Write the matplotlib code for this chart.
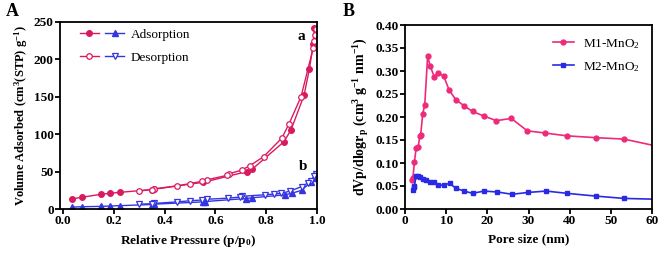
import matplotlib
matplotlib.use("Agg")
import matplotlib.pyplot as plt
from matplotlib.legend_handler import HandlerTuple

plt.rcParams['font.family'] = ['Liberation Serif', 'DejaVu Serif']
plt.rcParams['mathtext.fontset'] = 'custom'
plt.rcParams['mathtext.rm'] = 'Liberation Serif'
plt.rcParams['mathtext.bf'] = 'Liberation Serif:bold'
plt.rcParams['mathtext.it'] = 'Liberation Serif:italic'

# ---- Panel A data ----
m1_ads_p = [0.034, 0.073, 0.148, 0.185, 0.225, 0.349, 0.36, 0.553, 0.723, 0.744, 0.87, 0.898, 0.949, 0.97, 0.985, 0.99]
m1_ads_v = [13.5, 15.6, 19.6, 21.0, 22.3, 26.0, 26.5, 35.7, 50.0, 53.0, 90.0, 106.0, 152.0, 187.0, 220.0, 242.0]
m1_des_p = [0.995, 0.993, 0.99, 0.985, 0.937, 0.89, 0.862, 0.79, 0.736, 0.703, 0.654, 0.646, 0.566, 0.546, 0.50, 0.45, 0.36, 0.35, 0.30]
m1_des_v = [240.0, 232.0, 225.0, 215.0, 150.0, 114.0, 95.0, 70.0, 58.0, 52.0, 47.0, 45.0, 39.0, 37.0, 34.0, 31.0, 27.0, 26.0, 24.0]
m2_ads_p = [0.034, 0.073, 0.148, 0.185, 0.225, 0.35, 0.36, 0.55, 0.56, 0.72, 0.745, 0.874, 0.90, 0.94, 0.975, 0.99, 0.996]
m2_ads_v = [2.5, 3.0, 3.5, 4.0, 4.5, 6.0, 6.5, 9.5, 10.0, 14.0, 15.0, 19.0, 21.0, 25.0, 36.0, 42.0, 46.0]
m2_des_p = [0.998, 0.99, 0.975, 0.965, 0.94, 0.894, 0.86, 0.83, 0.795, 0.703, 0.697, 0.65, 0.566, 0.546, 0.50, 0.45, 0.36, 0.35, 0.30]
m2_des_v = [47.0, 44.0, 38.0, 35.0, 30.0, 24.0, 21.0, 20.0, 19.0, 17.0, 16.0, 14.5, 13.0, 12.0, 11.0, 9.5, 7.5, 7.0, 6.5]

# ---- Panel B data ----
m1_pore = [1.6, 1.9, 2.3, 2.7, 3.2, 3.6, 3.8, 4.3, 4.8, 5.5, 6.1, 7.1, 8.1, 9.4, 10.7, 12.3, 14.4, 16.4, 19.2, 22.2, 25.8, 29.7, 34.1, 39.4, 46.5, 53.2, 62.0]
m1_dv = [0.062, 0.067, 0.102, 0.133, 0.134, 0.159, 0.160, 0.207, 0.226, 0.333, 0.311, 0.288, 0.296, 0.289, 0.259, 0.238, 0.224, 0.212, 0.202, 0.192, 0.197, 0.170, 0.165, 0.159, 0.155, 0.152, 0.135]
m2_pore = [1.85, 2.1, 2.3, 2.66, 3.06, 3.6, 4.3, 5.1, 6.1, 7.1, 8.1, 9.4, 10.9, 12.3, 14.4, 16.4, 19.2, 22.4, 26.0, 29.9, 34.3, 39.4, 46.4, 53.2, 62.0]
m2_dv = [0.042, 0.048, 0.050, 0.072, 0.072, 0.069, 0.065, 0.063, 0.059, 0.058, 0.052, 0.052, 0.056, 0.045, 0.039, 0.034, 0.039, 0.037, 0.032, 0.036, 0.039, 0.034, 0.028, 0.023, 0.021]

RED = '#d81b60'
BLUE = '#3535e0'
PINK = '#ee2a7b'
BLUE2 = '#2a2ae6'

W, H = 660, 256
fig = plt.figure(figsize=(W / 100, H / 100), dpi=100)

def ax_rect(l, t, r, b):
    return [l / W, 1 - b / H, (r - l) / W, (b - t) / H]

def style(ax):
    for s in ax.spines.values():
        s.set_linewidth(1.3)
    ax.tick_params(direction='out', length=3.5, width=1.3, labelsize=9.5, pad=1)
    for lab in ax.get_xticklabels() + ax.get_yticklabels():
        lab.set_fontweight('bold')

# Panel A
axA = fig.add_axes(ax_rect(60, 22, 317, 209))
ms = 4
lw = 1.0
l1, = axA.plot(m1_ads_p, m1_ads_v, '-o', color=RED, ms=ms, lw=lw, mfc=RED, mec=RED)
l2, = axA.plot(m1_des_p, m1_des_v, '-o', color=RED, ms=ms, lw=lw, mfc='white', mec=RED, mew=0.9)
l3, = axA.plot(m2_ads_p, m2_ads_v, '-^', color=BLUE, ms=ms, lw=lw, mfc=BLUE, mec=BLUE)
l4, = axA.plot(m2_des_p, m2_des_v, '-v', color=BLUE, ms=ms, lw=lw, mfc='white', mec=BLUE, mew=0.9)
axA.set_xlim(-0.012, 1.0)
axA.set_ylim(0, 250)
axA.set_xticks([0.0, 0.2, 0.4, 0.6, 0.8, 1.0])
axA.set_yticks([0, 50, 100, 150, 200, 250])
axA.set_xticklabels(['0.0', '0.2', '0.4', '0.6', '0.8', '1.0'])
style(axA)
axA.set_xlabel(r'Relative Pressure (p/p$_\mathbf{0}$)', fontsize=9.5, fontweight='bold', labelpad=4)
axA.set_ylabel(r'Volume Adsorbed (cm$^\mathbf{3}$(STP) g$^\mathbf{-1}$)', fontsize=9, fontweight='bold', labelpad=3)
axA.legend([(l1, l3), (l2, l4)], ['Adsorption', 'Desorption'],
           handler_map={tuple: HandlerTuple(ndivide=None, pad=0.5)},
           handlelength=3.4, loc='upper left', frameon=False, fontsize=9.5,
           bbox_to_anchor=(0.03, 1.03), labelspacing=0.85, handletextpad=0.5)
axA.text(0.94, 230, 'a', fontsize=11, fontweight='bold', ha='center', va='center')
axA.text(0.945, 57, 'b', fontsize=11, fontweight='bold', ha='center', va='center')
fig.text(6 / W, 1 - 12 / H, 'A', fontsize=13, fontweight='bold', ha='left', va='center')

# Panel B
axB = fig.add_axes(ax_rect(405, 25, 652, 209))
p1, = axB.plot(m1_pore, m1_dv, '-o', color=PINK, ms=3.5, lw=1.2, label='M1-MnO$_2$')
p2, = axB.plot(m2_pore, m2_dv, '-s', color=BLUE2, ms=3.5, lw=1.2, label='M2-MnO$_2$')
axB.set_xlim(0, 60)
axB.set_ylim(0, 0.40)
axB.set_xticks([0, 10, 20, 30, 40, 50, 60])
axB.set_yticks([0.0, 0.05, 0.10, 0.15, 0.20, 0.25, 0.30, 0.35, 0.40])
axB.set_yticklabels(['0.00', '0.05', '0.10', '0.15', '0.20', '0.25', '0.30', '0.35', '0.40'])
style(axB)
axB.set_xlabel('Pore size (nm)', fontsize=9.5, fontweight='bold', labelpad=4)
axB.set_ylabel(r'dVp/dlogr$_\mathbf{p}$ (cm$^\mathbf{3}$ g$^\mathbf{-1}$ nm$^\mathbf{-1}$)', fontsize=10, fontweight='bold', labelpad=3)
axB.legend(loc='upper right', frameon=False, fontsize=9.5, handlelength=1.6,
           bbox_to_anchor=(1.0, 1.0), labelspacing=0.7, handletextpad=0.7)
fig.text(343 / W, 1 - 11 / H, 'B', fontsize=13, fontweight='bold', ha='left', va='center')

fig.savefig('out.png', dpi=100)
